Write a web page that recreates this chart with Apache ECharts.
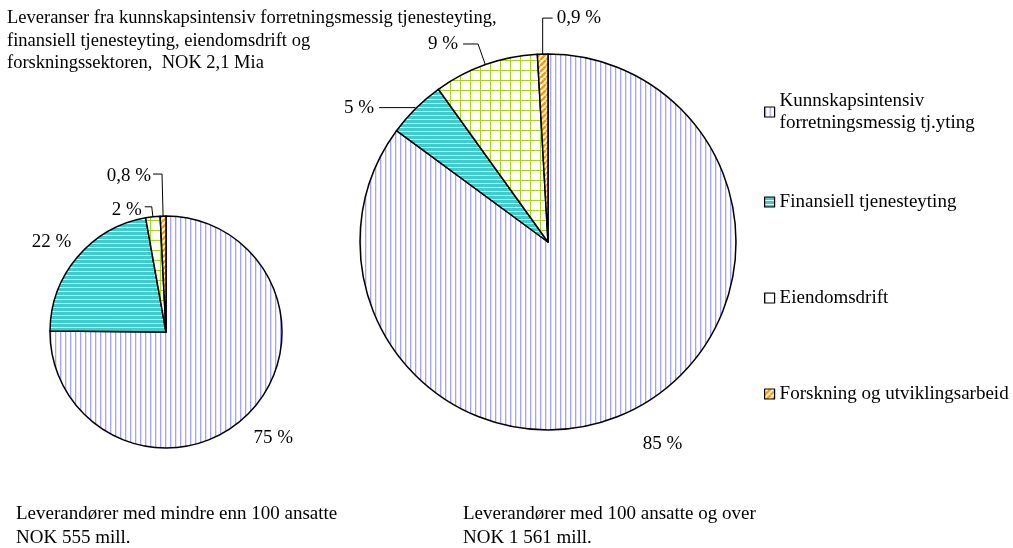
<!DOCTYPE html>
<html>
<head>
<meta charset="utf-8">
<script src="https://cdn.jsdelivr.net/npm/echarts@6/dist/echarts.min.js"></script>
<style>
  html, body { margin: 0; padding: 0; background: #fff; }
  #chart { width: 1013px; height: 548px; }
</style>
</head>
<body>
<div id="chart"></div>
<script>
// data
const categories = ['Kunnskapsintensiv\nforretningsmessig tj.yting', 'Finansiell tjenesteyting', 'Eiendomsdrift', 'Forskning og utviklingsarbeid']
const smallValues = [75, 22, 2, 0.8]   // under 100 ansatte
const largeValues = [85, 5, 9, 0.9]    // 100 ansatte og over

const font = "'Liberation Serif', 'Times New Roman', serif"

// fill patterns
function tile (w, h, draw) {
  const c = document.createElement('canvas')
  c.width = w
  c.height = h
  const ctx = c.getContext('2d')
  ctx.fillStyle = '#fff'
  ctx.fillRect(0, 0, w, h)
  draw(ctx)
  return { image: c, repeat: 'repeat' }
}

const patterns = [
  tile(5, 4, ctx => { ctx.fillStyle = '#a3a3ff'; ctx.fillRect(0, 0, 1.3, 4) }),
  tile(4, 4, ctx => { ctx.fillStyle = '#40cccc'; ctx.fillRect(0, 0, 4, 3) }),
  tile(10, 10, ctx => { ctx.fillStyle = '#a8d21e'; ctx.fillRect(0, 0, 10, 1); ctx.fillRect(0, 0, 1, 10) }),
  tile(6, 6, ctx => {
    ctx.strokeStyle = '#ff9900'
    ctx.lineWidth = 2.5
    for (let k = -6; k <= 12; k += 6) {
      ctx.beginPath(); ctx.moveTo(k, 6); ctx.lineTo(k + 6, 0); ctx.stroke()
    }
  })
]

function fmt (p) {
  return String(p.value).replace('.', ',') + ' %'
}

function buildData (values, lines) {
  return values.map((v, i) => ({
    name: categories[i],
    value: v,
    itemStyle: { color: patterns[i] },
    labelLine: lines[i]
  }))
}

const smallLines = [
  { show: false, length: 4, length2: 0 },
  { show: false, length: 4, length2: 0 },
  { show: true, length: 10, length2: 7 },
  { show: true, length: 42, length2: 9 }
]
const largeLines = [
  { show: false, length: 4, length2: 0 },
  { show: true, length: 1, length2: 36 },
  { show: true, length: 22, length2: 15 },
  { show: true, length: 36, length2: 10 }
]

// nudges for labels that have no leader line
const smallNudge = { 0: [-2, 21], 1: [2, -12], 2: [2, 3], 3: [3, 2] }
const largeNudge = { 0: [3, 31] }

function layout (nudge, flipIndex) {
  return params => {
    if (params.dataIndex === flipIndex && params.labelLinePoints) {
      // leader goes straight up, then turns right to the label
      const p = params.labelLinePoints
      const p0 = p[0]
      const p1 = [p0[0], p[1][1]]
      const p2 = [p0[0] + 10, p[1][1]]
      return {
        x: p2[0] + 4,
        y: p2[1],
        align: 'left',
        verticalAlign: 'middle',
        labelLinePoints: [p0, p1, p2]
      }
    }
    const o = nudge[params.dataIndex]
    return o ? { dx: o[0], dy: o[1] } : {}
  }
}

const myChart = echarts.init(document.getElementById('chart'))

const legendTops = [85, 186, 282, 378]
const textBase = { fontFamily: font, fontWeight: 'normal', color: '#000' }

const option = {
  animation: false,
  title: [
    {
      text: 'Leveranser fra kunnskapsintensiv forretningsmessig tjenesteyting,\nfinansiell tjenesteyting, eiendomsdrift og\nforskningssektoren,  NOK 2,1 Mia',
      left: 2,
      top: 2,
      textStyle: { ...textBase, fontSize: 18.5, lineHeight: 22.5 }
    },
    {
      text: 'Leverandører med mindre enn 100 ansatte\nNOK 555 mill.',
      left: 11,
      top: 497,
      textStyle: { ...textBase, fontSize: 19, lineHeight: 24 }
    },
    {
      text: 'Leverandører med 100 ansatte og over\nNOK 1 561 mill.',
      left: 458,
      top: 497,
      textStyle: { ...textBase, fontSize: 19, lineHeight: 24 }
    }
  ],
  legend: categories.map((name, i) => ({
    data: [name],
    orient: 'vertical',
    left: 759,
    top: legendTops[i],
    icon: 'rect',
    itemWidth: 10,
    itemHeight: 10,
    itemGap: 0,
    selectedMode: false,
    itemStyle: { borderColor: '#000', borderWidth: 1.2 },
    textStyle: { fontFamily: font, fontSize: 19, color: '#000', lineHeight: 22 }
  })),
  series: [
    {
      type: 'pie',
      center: [166, 332],
      radius: 116,
      startAngle: 90,
      clockwise: true,
      avoidLabelOverlap: false,
      silent: true,
      itemStyle: { borderColor: '#000', borderWidth: 1.5 },
      label: { show: true, position: 'outside', formatter: fmt, fontFamily: font, fontSize: 19, color: '#000' },
      labelLine: { lineStyle: { color: '#000', width: 1 }, smooth: false },
      labelLayout: layout(smallNudge, -1),
      data: buildData(smallValues, smallLines)
    },
    {
      type: 'pie',
      center: [548, 242],
      radius: 188,
      startAngle: 90,
      clockwise: true,
      avoidLabelOverlap: false,
      silent: true,
      itemStyle: { borderColor: '#000', borderWidth: 1.5 },
      label: { show: true, position: 'outside', formatter: fmt, fontFamily: font, fontSize: 19, color: '#000' },
      labelLine: { lineStyle: { color: '#000', width: 1 }, smooth: false },
      labelLayout: layout(largeNudge, 3),
      data: buildData(largeValues, largeLines)
    }
  ]
}

myChart.setOption(option)

window.addEventListener('resize', () => {
  myChart.resize()
})
</script>
</body>
</html>
